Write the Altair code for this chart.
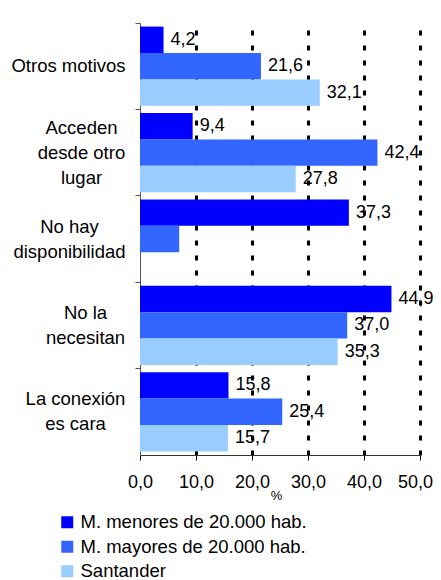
import altair as alt
import pandas as pd

categorias = [
    "Otros motivos",
    "Acceden|desde otro|lugar",
    "No hay|disponibilidad",
    "No la|necesitan",
    "La conexión|es cara",
]
series = ["M. menores de 20.000 hab.", "M. mayores de 20.000 hab.", "Santander"]
colores = ["#0000FF", "#3366FF", "#99CCFF"]

menores = [4.2, 9.4, 37.3, 44.9, 15.8]
mayores = [21.6, 42.4, 7.0, 37.0, 25.4]
santander = [32.1, 27.8, None, 35.3, 15.7]
# bars drawn without a value label in the original
sin_etiqueta = [("No hay|disponibilidad", "M. mayores de 20.000 hab.")]

rows = []
for serie, vals in zip(series, [menores, mayores, santander]):
    for cat, v in zip(categorias, vals):
        if v is None:
            continue
        rows.append({"cat": cat, "serie": serie, "valor": v,
                     "mostrar": (cat, serie) not in sin_etiqueta})
df = pd.DataFrame(rows)

FONT = "Liberation Sans"

# each label block is centred on its own lines, block right edge near the axis
pad_por_cat = [67, 54, 66, 50, 60]
pad_cond = {
    "condition": [
        {"test": f"datum.value == '{c}'", "value": p}
        for c, p in zip(categorias, pad_por_cat)
    ],
    "value": 60,
}
# shift multi-line labels so the block is centred on its band
off_cond = {
    "condition": [
        {"test": "length(split(datum.value, '|')) == 3", "value": -25},
        {"test": "length(split(datum.value, '|')) == 2", "value": -12.5},
    ],
    "value": 0,
}

y_enc = alt.Y(
    "cat:N", sort=categorias,
    scale=alt.Scale(paddingInner=0, paddingOuter=0),
    axis=alt.Axis(
        title=None, bandPosition=0, labelOffset=off_cond,
        labelExpr="split(datum.label, '|')",
        labelAlign="center", labelBaseline="middle", labelPadding=pad_cond,
        labelFontSize=18.5, labelLineHeight=25, labelColor="#000000",
        tickSize=5, tickColor="#555555", domainColor="#555555", grid=False,
    ),
)
yoff_enc = alt.YOffset("serie:N", sort=series,
                       scale=alt.Scale(paddingInner=0, paddingOuter=0.136))

base = alt.Chart(df).encode(y=y_enc, yOffset=yoff_enc)

bars = base.mark_bar().encode(
    x=alt.X(
        "valor:Q", scale=alt.Scale(domain=[0, 50], nice=False),
        axis=alt.Axis(
            title="%", values=[0, 10, 20, 30, 40, 50],
            labelExpr="replace(format(datum.value, '.1f'), '.', ',')",
            labelFontSize=18, labelColor="#000000", labelPadding=13,
            labelFlush=False, labelOverlap=False,
            labelOffset={"condition": {"test": "datum.value == 50", "value": -5}, "value": 0},
            tickSize=5, tickColor="#000000", domainColor="#333333",
            grid=True, gridColor="#000000", gridWidth=3, gridDash=[5, 10],
            gridOpacity={"condition": {"test": "datum.value == 0", "value": 0}, "value": 1},
            titleFontSize=13, titleFontWeight="normal", titleX=136, titleY=44,
            titleBaseline="alphabetic",
        ),
    ),
    color=alt.Color(
        "serie:N", sort=series,
        scale=alt.Scale(domain=series, range=colores),
        legend=alt.Legend(
            title=None, orient="none", legendX=-82, legendY=490,
            direction="vertical", symbolType="square", symbolSize=144,
            symbolStrokeWidth=0, labelFontSize=18.5, labelOffset=4,
            labelLimit=400, rowPadding=5.5, labelColor="#000000",
        ),
    ),
)

text = base.mark_text(
    align="left", baseline="middle", dx=7, fontSize=18, font=FONT, color="#000000"
).transform_filter("datum.mostrar").transform_calculate(
    etiqueta="replace(format(datum.valor, '.1f'), '.', ',')"
).encode(x="valor:Q", text="etiqueta:N")

chart = alt.layer(bars, text).properties(
    width=280, height=432,
    autosize=alt.AutoSizeParams(type="none"),
    padding={"left": 132, "top": 15, "right": 13, "bottom": 125},
).configure(font=FONT).configure_view(stroke=None)

chart.save("out.html", embed_options={"renderer": "svg", "actions": False})
